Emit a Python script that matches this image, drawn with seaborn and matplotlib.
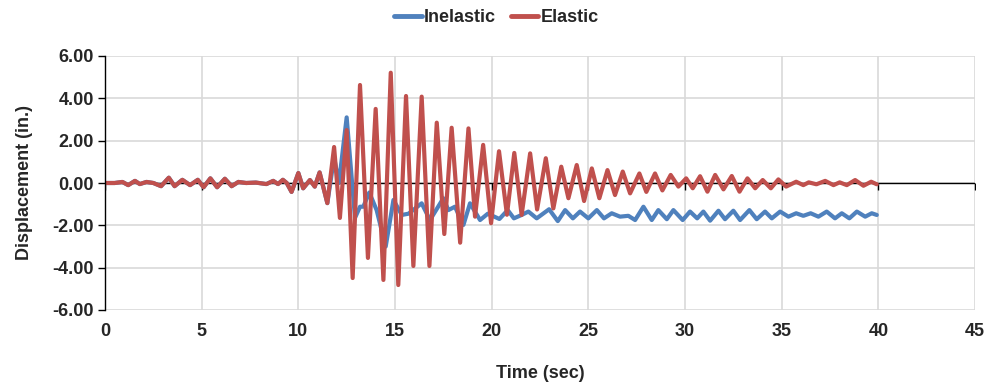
import numpy as np
import pandas as pd
import matplotlib
matplotlib.use("Agg")
import matplotlib.pyplot as plt
import seaborn as sns

# ---- data (time in sec, displacement in in.) ----
early_t = [0.0, 0.5, 0.9, 1.2, 1.55, 1.8, 2.15, 2.5, 2.9, 3.3, 3.6, 4.0, 4.4, 4.8,
           5.1, 5.45, 5.8, 6.2, 6.55, 6.9, 7.3, 7.8, 8.35, 8.7, 8.95, 9.2, 9.4,
           9.65, 10.0, 10.25, 10.6, 10.85, 11.1, 11.5]
early_v = [0.0, 0.0, 0.05, -0.1, 0.1, -0.05, 0.05, 0.0, -0.15, 0.25, -0.15, 0.15,
           -0.1, 0.15, -0.2, 0.22, -0.2, 0.2, -0.15, 0.05, 0.0, 0.02, -0.05, 0.1,
           -0.05, 0.15, 0.0, -0.42, 0.47, -0.25, 0.14, -0.17, 0.5, -0.95]

elastic_t_late = [11.85, 12.15, 12.5, 12.81, 13.19, 13.6, 14.0, 14.4, 14.78, 15.17,
                  15.57, 15.95, 16.38, 16.78, 17.16, 17.55, 17.93, 18.37, 18.8, 19.14,
                  19.56, 19.97, 20.38, 20.79, 21.17, 21.55, 21.99, 22.35, 22.8, 23.19,
                  23.6, 23.97, 24.4, 24.78, 25.18, 25.57, 25.99, 26.38, 26.78, 27.16,
                  27.64, 28.0, 28.45, 28.83, 29.26, 29.66, 30.06, 30.4, 30.78, 31.16,
                  31.56, 31.99, 32.42, 32.82, 33.23, 33.63, 34.02, 34.44, 34.83, 35.23,
                  35.75, 36.12, 36.4, 36.8, 37.25, 37.68, 38.0, 38.37, 38.8, 39.23,
                  39.63, 39.92]
elastic_v_late = [1.7, -1.65, 2.5, -4.49, 4.63, -3.54, 3.5, -4.58, 5.21, -4.82,
                  4.11, -3.92, 4.08, -3.92, 2.85, -2.41, 2.61, -2.82, 2.58, -1.59,
                  1.8, -1.9, 1.5, -1.5, 1.42, -1.51, 1.4, -1.25, 1.17, -1.2,
                  0.77, -0.72, 0.85, -0.85, 0.69, -0.72, 0.61, -0.57, 0.54, -0.49,
                  0.45, -0.42, 0.45, -0.35, 0.38, -0.17, 0.22, -0.25, 0.32, -0.41,
                  0.38, -0.3, 0.33, -0.41, 0.22, -0.25, 0.14, -0.25, 0.17, -0.17,
                  0.06, -0.1, 0.03, -0.06, 0.1, -0.1, 0.03, -0.1, 0.14, -0.13,
                  0.06, -0.06]

inelastic_t_late = [11.85, 12.1, 12.5, 12.93, 13.19, 13.36, 13.67, 14.05, 14.52, 14.92,
                    15.35, 15.7, 16.38, 16.81, 17.5, 17.76, 18.1, 18.54, 18.88, 19.4,
                    19.8, 20.4, 20.83, 21.15, 21.55, 21.9, 22.33, 22.97, 23.42, 23.8,
                    24.2, 24.57, 25.0, 25.44, 25.81, 26.21, 26.64, 27.07, 27.42, 27.85,
                    28.28, 28.62, 29.06, 29.4, 29.88, 30.26, 30.63, 30.95, 31.3, 31.73,
                    32.07, 32.5, 32.85, 33.33, 33.71, 34.14, 34.49, 34.92, 35.35, 35.75,
                    36.12, 36.5, 36.9, 37.33, 37.76, 38.11, 38.5, 38.89, 39.32, 39.66,
                    39.92]
inelastic_v_late = [1.2, 0.0, 3.1, -1.65, -1.12, -1.12, -0.45, -1.28, -3.0, -0.8,
                    -1.51, -1.45, -0.96, -1.75, -0.72, -1.28, -1.12, -1.98, -0.96, -1.75,
                    -1.45, -1.7, -1.28, -1.67, -1.51, -1.35, -1.67, -1.24, -1.8, -1.28,
                    -1.67, -1.35, -1.67, -1.28, -1.67, -1.43, -1.59, -1.55, -1.75, -1.12,
                    -1.75, -1.28, -1.71, -1.28, -1.75, -1.35, -1.67, -1.35, -1.78, -1.31,
                    -1.71, -1.31, -1.75, -1.28, -1.71, -1.35, -1.67, -1.35, -1.59, -1.43,
                    -1.55, -1.43, -1.59, -1.35, -1.67, -1.43, -1.67, -1.35, -1.59, -1.43,
                    -1.51]

series_names = ["Inelastic", "Elastic"]
x_ticks = [0, 5, 10, 15, 20, 25, 30, 35, 40, 45]
y_ticks = [-6, -4, -2, 0, 2, 4, 6]

# ---- build long-form table ----
inel_t = early_t + inelastic_t_late
inel_v = early_v + inelastic_v_late
el_t = early_t + elastic_t_late
el_v = early_v + elastic_v_late
df = pd.concat([
    pd.DataFrame({"Time": inel_t, "Disp": inel_v, "Series": series_names[0]}),
    pd.DataFrame({"Time": el_t, "Disp": el_v, "Series": series_names[1]}),
], ignore_index=True)

sns.set_style("white")
plt.rcParams['font.family'] = ['Liberation Sans', 'DejaVu Sans']
plt.rcParams['font.weight'] = 'bold'

fig = plt.figure(figsize=(9.93, 3.85), dpi=100)
ax = fig.add_axes([105/993, 1-310/385, (975-105)/993, (310-56)/385])

palette = {"Inelastic": "#4F81BD", "Elastic": "#C0504D"}
sns.lineplot(data=df, x="Time", y="Disp", hue="Series", palette=palette,
             hue_order=series_names, estimator=None, sort=False, lw=3.0,
             ax=ax, legend=True)
for ln in ax.get_lines():
    ln.set_solid_joinstyle('round')
    ln.set_solid_capstyle('round')

ax.set_xlim(0, 45)
ax.set_ylim(-6, 6)
ax.set_xticks(x_ticks)
ax.set_yticks(y_ticks)
ax.set_yticklabels([f"{v:.2f}" for v in y_ticks])
ax.grid(True, color="#D9D9D9", lw=1.2)
ax.set_axisbelow(True)
for s in ["top", "right", "bottom"]:
    ax.spines[s].set_visible(False)
ax.spines["left"].set_color("black")
ax.spines["left"].set_linewidth(1.0)
ax.axhline(0, color="black", lw=1.0, zorder=1.5)
ax.plot(x_ticks, [0]*len(x_ticks), ls="none", marker=3, color="black",
        markersize=5, mew=1.0, zorder=1.5)
ax.tick_params(axis="x", length=0, pad=9, labelsize=13)
ax.tick_params(axis="y", length=5, width=1, color="black", direction="out",
               pad=3, labelsize=13, left=True)
ax.set_xlabel("Time (sec)", fontsize=13, fontweight="bold", labelpad=18)
ax.set_ylabel("Displacement (in.)", fontsize=13, fontweight="bold", labelpad=14)

handles, labels = ax.get_legend_handles_labels()
ax.get_legend().remove()
for h in handles:
    h.set_linewidth(3.5)
fig.legend(handles, labels, loc="center", bbox_to_anchor=(0.5, 1-18/385),
           ncol=2, frameon=False, fontsize=13, handlelength=1.5,
           handletextpad=0.15, columnspacing=0.8)

fig.savefig("out.png", dpi=100)
